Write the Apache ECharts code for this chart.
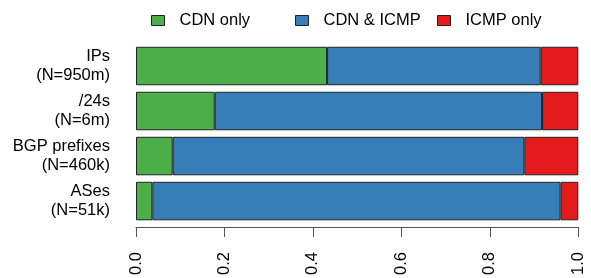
<!DOCTYPE html>
<html>
<head>
<meta charset="utf-8">
<script src="https://cdn.jsdelivr.net/npm/echarts@6/dist/echarts.min.js"></script>
<style>html,body{margin:0;padding:0;background:#fff}#c{width:591px;height:278px}</style>
</head>
<body>
<div id="c"></div>
<script>
const categories = ['IPs\n(N=950m)', '/24s\n(N=6m)', 'BGP prefixes\n(N=460k)', 'ASes\n(N=51k)'];
const seriesNames = ['CDN only', 'CDN & ICMP', 'ICMP only'];
const cdnOnly = [0.432, 0.178, 0.083, 0.037];
const cdnIcmp = [0.483, 0.740, 0.795, 0.923];
const icmpOnly = [0.085, 0.082, 0.122, 0.040];
const tickLabels = ['0.0', '0.2', '0.4', '0.6', '0.8', '1.0'];
const colors = ['#4daf4a', '#377eb8', '#e41a1c'];

const font = 'Liberation Sans, Arial, Helvetica, sans-serif';
const fs = 16.5;
const chart = echarts.init(document.getElementById('c'), null, {renderer: 'canvas'});
const values = [cdnOnly, cdnIcmp, icmpOnly];
const legendLefts = [151, 295, 437];
chart.setOption({
  animation: false,
  textStyle: {fontFamily: font},
  grid: {left: 136, right: 12.7, top: 43.5, bottom: 50.3, containLabel: false},
  legend: seriesNames.map((n, i) => ({
    data: [{name: n, icon: 'rect'}], left: legendLefts[i], top: 12, itemWidth: 13, itemHeight: 10, itemGap: 0,
    textStyle: {fontFamily: font, fontSize: fs, color: '#000', padding: [0, 0, 0, 10]},
    padding: 0, selectedMode: false,
    itemStyle: {borderColor: '#222', borderWidth: 1}
  })),
  xAxis: {
    type: 'value', min: 0, max: 1, interval: 0.2, offset: 3.5,
    axisLine: {show: true, lineStyle: {color: '#555', width: 1}},
    axisTick: {show: true, length: 10, lineStyle: {color: '#555'}},
    splitLine: {show: false},
    axisLabel: {rotate: 90, margin: 25, fontSize: fs, color: '#000', fontFamily: font,
      formatter: v => tickLabels[Math.round(v / 0.2)]}
  },
  yAxis: {
    type: 'category', data: categories, inverse: true,
    axisLine: {show: false}, axisTick: {show: false},
    axisLabel: {margin: 26, fontSize: fs, lineHeight: 19, color: '#000', fontFamily: font, align: 'right'}
  },
  series: seriesNames.map((n, i) => ({
    name: n, type: 'bar', stack: 'all', data: values[i], barWidth: 38.5,
    itemStyle: {color: colors[i], borderColor: '#222', borderWidth: 1}
  }))
});
</script>
</body>
</html>
